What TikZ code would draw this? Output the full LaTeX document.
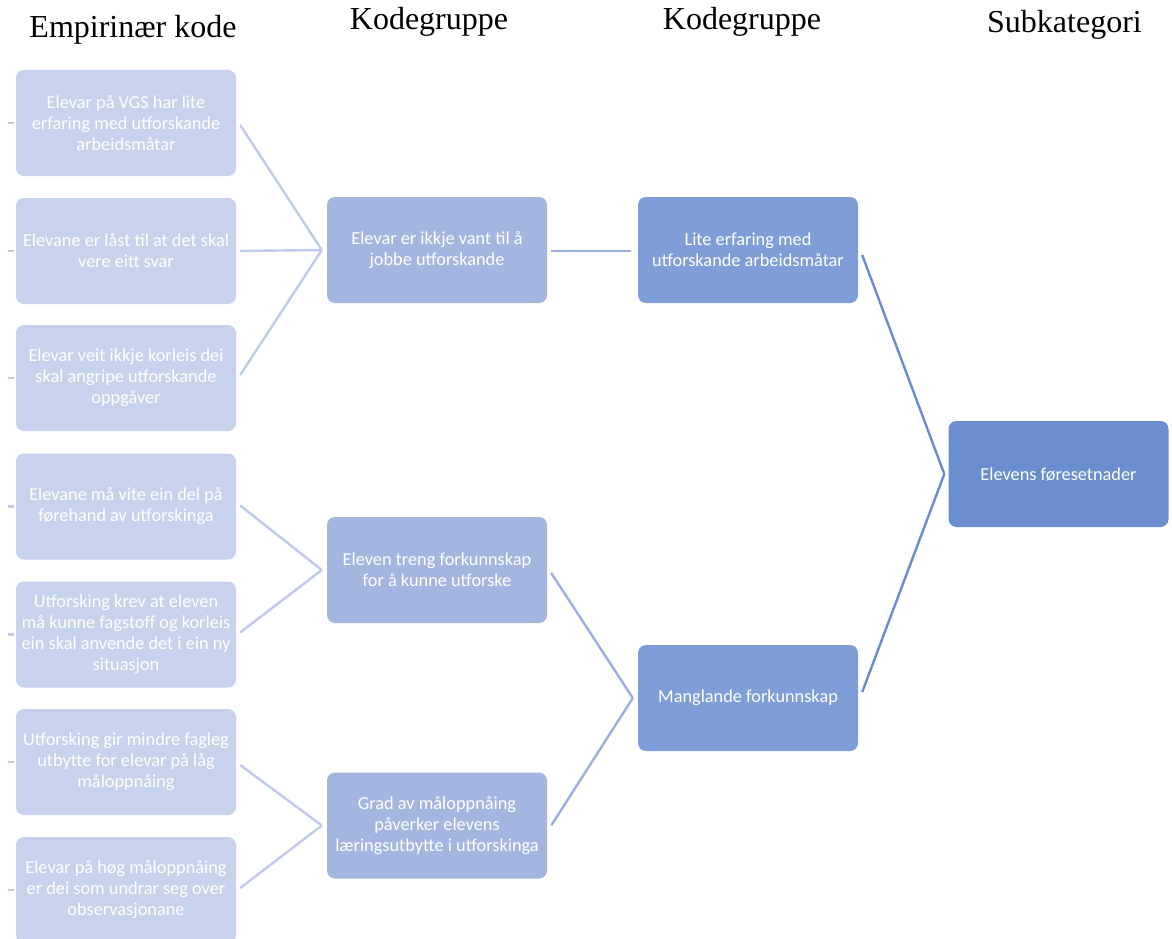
\documentclass[tikz,border=0pt]{standalone}
\usepackage{fontspec}
\setmainfont{Liberation Serif}
\newfontfamily\boxfont{Carlito}
\usetikzlibrary{calc}
\definecolor{cA}{HTML}{C7D3EC}
\definecolor{cB}{HTML}{A4B5E0}
\definecolor{cC}{HTML}{7F9DD6}
\definecolor{cD}{HTML}{6B8ECF}
\definecolor{lA}{HTML}{BFCBE9}
\definecolor{lB}{HTML}{9CAFDD}
\definecolor{lC}{HTML}{6A8CCE}
\tikzset{
  card/.style={rounded corners=8pt, minimum width=220pt, minimum height=106pt,
    inner sep=0pt, align=center, text=white,
    font=\boxfont\fontsize{18.3}{21}\selectfont},
  cardA/.style={card, fill=cA},
  cardB/.style={card, fill=cB},
  cardC/.style={card, fill=cC},
  cardD/.style={card, fill=cD},
  head/.style={anchor=base, font=\fontsize{32}{36}\selectfont, text=black},
  linkA/.style={draw=lA, line width=2.4pt},
  linkB/.style={draw=lB, line width=2.4pt},
  linkC/.style={draw=lC, line width=2.4pt},
  tick/.style={draw=lA, line width=2.4pt}
}
\begin{document}
\begin{tikzpicture}[x=1pt, y=-1pt]
\useasboundingbox (0,0) rectangle (1172,939);
\clip (0,0) rectangle (1172,939);
\fill[white] (0,0) rectangle (1172,939);

% headings
\node[head] (h1) at (133,38) {Empirinær kode};
\node[head] (h2) at (429,30) {Kodegruppe};
\node[head] (h3) at (742,30) {Kodegruppe};
\node[head] (h4) at (1064.5,33) {Subkategori};

% left column
\node[cardA] (l1) at (126,123) {Elevar på VGS har lite\\erfaring med utforskande\\arbeidsmåtar};
\node[cardA] (l2) at (126,251) {Elevane er låst til at det skal\\vere eitt svar};
\node[cardA] (l3) at (126,378) {Elevar veit ikkje korleis dei\\skal angripe utforskande\\oppgåver};
\node[cardA] (l4) at (126,506.5) {Elevane må vite ein del på\\førehand av utforskinga};
\node[cardA] (l5) at (126,634.5) {Utforsking krev at eleven\\må kunne fagstoff og korleis\\ein skal anvende det i ein ny\\situasjon};
\node[cardA] (l6) at (126,762) {Utforsking gir mindre fagleg\\utbytte for elevar på låg\\måloppnåing};
\node[cardA] (l7) at (126,890) {Elevar på høg måloppnåing\\er dei som undrar seg over\\observasjonane};

% code groups
\node[cardB] (A) at (437,250) {Elevar er ikkje vant til å\\jobbe utforskande};
\node[cardB] (B) at (437,570) {Eleven treng forkunnskap\\for å kunne utforske};
\node[cardB] (C) at (437,825.5) {Grad av måloppnåing\\påverker elevens\\læringsutbytte i utforskinga};

% second code groups
\node[cardC] (D) at (748,250) {Lite erfaring med\\utforskande arbeidsmåtar};
\node[cardC] (E) at (748,698) {Manglande forkunnskap};

% subcategory
\node[cardD] (F) at (1058.5,474) {Elevens føresetnader};

% junction points
\coordinate (jA) at ($(A.west)+(-5,0)$);
\coordinate (jB) at ($(B.west)+(-5,0)$);
\coordinate (jC) at ($(C.west)+(-5,0)$);
\coordinate (jE) at ($(E.west)+(-5,0)$);
\coordinate (jF) at ($(F.west)+(-4,0)$);

% ticks
\foreach \n in {l1,l2,l3,l4,l5,l6,l7}
  \draw[tick] ($(\n.west)+(-8,0)$) -- ($(\n.west)+(-2,0)$);

% connectors left -> groups
\draw[linkA] ($(l1.east)+(4,2)$) -- (jA);
\draw[linkA] ($(l2.east)+(4,0)$) -- (jA);
\draw[linkA] ($(l3.east)+(4,-3)$) -- (jA);
\draw[linkA] ($(l4.east)+(4,-1)$) -- (jB);
\draw[linkA] ($(l5.east)+(4,-2)$) -- (jB);
\draw[linkA] ($(l6.east)+(4,3)$) -- (jC);
\draw[linkA] ($(l7.east)+(4,-2)$) -- (jC);

% groups -> second groups
\draw[linkB] ($(A.east)+(4,1)$) -- ($(D.west)+(-7,1)$);
\draw[linkB] ($(B.east)+(4,3)$) -- (jE);
\draw[linkB] ($(C.east)+(4,0)$) -- (jE);

% second groups -> subcategory
\draw[linkC] ($(D.east)+(4,5)$) -- (jF);
\draw[linkC] ($(E.east)+(4,-6)$) -- (jF);
\end{tikzpicture}
\end{document}
